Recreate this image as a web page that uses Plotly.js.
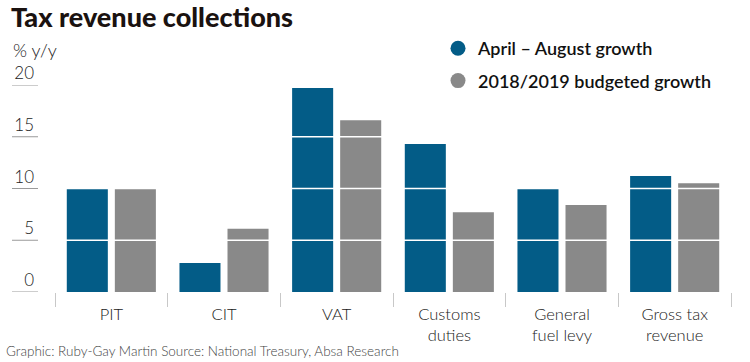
<!DOCTYPE html>
<html>
<head>
<meta charset="utf-8">
<script src="https://cdn.plot.ly/plotly-3.0.1.min.js"></script>
<style>html,body{margin:0;padding:0;background:#fff;}#chart{width:750px;height:362px;}</style>
</head>
<body>
<div id="chart"></div>
<script>
// Data
var categories = ["PIT", "CIT", "VAT", "Customs<br>duties", "General<br>fuel levy", "Gross tax<br>revenue"];
var aprilAugustGrowth = [10.0, 2.8, 19.7, 14.3, 10.0, 11.2];
var budgetedGrowth = [10.0, 6.1, 16.6, 7.7, 8.4, 10.5];
var seriesNames = ["April \u2013 August growth", "2018/2019 budgeted growth"];
var yTickVals = [0, 5, 10, 15, 20];
var yTickText = ["0", "5", "10", "15", "20"];

var BLUE = "#035c87";
var GREY = "#898989";
var FONT = "Lato, 'Open Sans', sans-serif";

var W = 750, H = 362;
var mL = 55, mR = 19, mT = 85, mB = 70;
var plotW = W - mL - mR, plotH = H - mT - mB;
function px2xp(px) { return (px - mL) / plotW; }
function px2yp(py) { return (H - mB - py) / plotH; }

var traces = [
  {type: "bar", x: categories, y: aprilAugustGrowth, name: seriesNames[0], marker: {color: BLUE}, showlegend: false, hoverinfo: "x+y"},
  {type: "bar", x: categories, y: budgetedGrowth, name: seriesNames[1], marker: {color: GREY}, showlegend: false, hoverinfo: "x+y"},
  {type: "scatter", mode: "markers", x: [null], y: [null], name: seriesNames[0], legendgroup: "a", marker: {color: BLUE, size: 15, symbol: "circle"}},
  {type: "scatter", mode: "markers", x: [null], y: [null], name: seriesNames[1], legendgroup: "b", marker: {color: GREY, size: 15, symbol: "circle"}}
];

var shapes = [];
yTickVals.forEach(function (v) {
  if (v > 0) {
    shapes.push({type: "line", xref: "paper", yref: "y", x0: 0, x1: 1, y0: v, y1: v, layer: "above", line: {color: "#ffffff", width: 1.5}});
  }
  shapes.push({type: "line", xref: "paper", yref: "y", x0: px2xp(12), x1: px2xp(38), y0: v, y1: v, layer: "above", line: {color: "#9a9a9a", width: 1}});
});

var layout = {
  width: W, height: H,
  margin: {l: mL, r: mR, t: mT, b: mB, pad: 0},
  paper_bgcolor: "#fff", plot_bgcolor: "#fff",
  font: {family: FONT, color: "#222"},
  title: {
    text: "Tax revenue collections",
    xref: "container", yref: "container",
    x: 11 / W, xanchor: "left", y: 1 - 8 / H, yanchor: "top",
    font: {family: FONT, size: 27, weight: 900, color: "#1a1210"}
  },
  barmode: "group",
  bargap: 0.147,
  bargroupgap: 0.146,
  xaxis: {
    type: "category",
    range: [-0.5, 5.5],
    tickson: "boundaries",
    ticks: "outside", ticklen: 14, tickwidth: 1, tickcolor: "#c8c8c8",
    ticklabelstandoff: 10,
    showline: false, showgrid: false, zeroline: false,
    tickfont: {family: FONT, size: 16.5, weight: 300, color: "#222"}
  },
  yaxis: {
    range: [0, 20],
    tickvals: yTickVals, ticktext: yTickText,
    ticks: "", showgrid: false, zeroline: false, showline: false,
    ticklabelposition: "outside top",
    ticklabelstandoff: 20,
    tickfont: {family: FONT, size: 17, weight: 300, color: "#222"}
  },
  showlegend: true,
  legend: {
    x: px2xp(438), xanchor: "left",
    y: px2yp(30), yanchor: "top",
    traceorder: "grouped", tracegroupgap: 6,
    font: {family: FONT, size: 18, weight: 600, color: "#111"},
    bgcolor: "rgba(0,0,0,0)"
  },
  shapes: shapes,
  annotations: [
    {text: "% y/y", xref: "paper", yref: "paper", x: px2xp(11), y: px2yp(37), xanchor: "left", yanchor: "top", showarrow: false,
     font: {family: FONT, size: 18, weight: 300, color: "#222"}},
    {text: "Graphic: Ruby-Gay Martin Source: National Treasury, Absa Research", xref: "paper", yref: "paper", x: px2xp(4), y: px2yp(351), xanchor: "left", yanchor: "middle", showarrow: false,
     font: {family: FONT, size: 13.5, weight: 300, color: "#444"}}
  ]
};

Plotly.newPlot("chart", traces, layout, {displayModeBar: false, staticPlot: true});
</script>
</body>
</html>
